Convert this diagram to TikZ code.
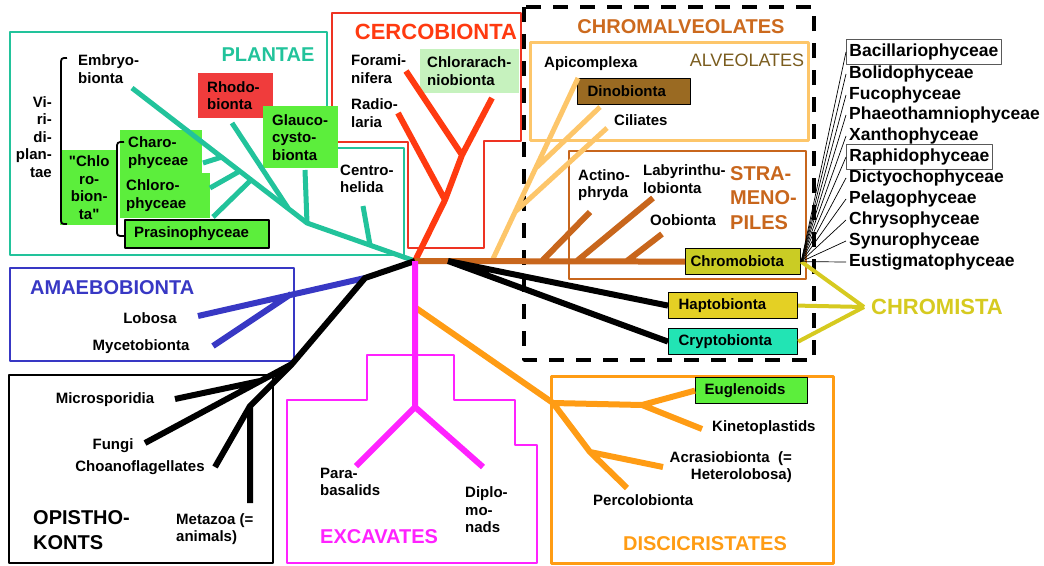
\documentclass[tikz,border=0pt]{standalone}
\usepackage{fontspec}
\setmainfont{Liberation Sans}
\newfontfamily\qfont{Liberation Sans}
\usetikzlibrary{positioning}

\definecolor{plantcol}{HTML}{22C39B}
\definecolor{cercocol}{HTML}{FF3A10}
\definecolor{cercoline}{HTML}{EE3322}
\definecolor{rhodocol}{HTML}{F03C3C}
\definecolor{leafgreen}{HTML}{5CEE3C}
\definecolor{palegreen}{HTML}{C6F2BE}
\definecolor{alveocol}{HTML}{FDC66A}
\definecolor{alveotext}{HTML}{7A5C1E}
\definecolor{dinocol}{HTML}{9A6A22}
\definecolor{stramcol}{HTML}{C8661C}
\definecolor{chromalv}{HTML}{CC6A1E}
\definecolor{chromocol}{HTML}{CACC24}
\definecolor{haptocol}{HTML}{E4D024}
\definecolor{cryptocol}{HTML}{22E4B4}
\definecolor{chromista}{HTML}{D6CA20}
\definecolor{amoebacol}{HTML}{3838C4}
\definecolor{excavcol}{HTML}{FF22FF}
\definecolor{disccol}{HTML}{FF9C14}

\newcommand{\lblfont}{\fontsize{15}{17.5}\selectfont\bfseries}
\newcommand{\listfont}{\fontsize{17.5}{21}\selectfont\bfseries}
\newcommand{\headfont}{\fontsize{20}{24.5}\selectfont\bfseries}
\newcommand{\bigheadfont}{\fontsize{22}{26}\selectfont\bfseries}
\newcommand{\sq}{{\qfont\symbol{34}}}

\begin{document}
\begin{tikzpicture}[x=1pt,y=-1pt,line join=round,
    lbl/.style={font=\lblfont,inner sep=0pt,align=left},
    listlbl/.style={font=\listfont,inner xsep=3pt,inner ysep=4pt,anchor=west},
    boxed/.style={draw=black!65,line width=0.8pt},
    unboxed/.style={},
    grphead/.style={font=\headfont,inner sep=0pt},
    tag/.style={font=\lblfont,anchor=north west,inner ysep=0pt,align=left},
    grpbox/.style={line width=2.5pt},
    twig/.style={line width=6pt},
    fan/.style={line width=0.7pt}]

\useasboundingbox (0,0) rectangle (1044,565);

% Group outlines
\draw[grpbox,plantcol] (10,32) -- (327,32) -- (327,148) -- (404,148) -- (404,255) -- (10,255) -- cycle;
\draw[line width=2pt,cercoline] (332,13) -- (521,13) -- (521,141) -- (484,141) -- (484,248)
    -- (408,248) -- (408,142) -- (332,142) -- cycle;
\draw[line width=3.5pt,dash pattern=on 15pt off 12pt] (524,7) rectangle (814,360);
\draw[line width=3pt,alveocol] (530,42) rectangle (808,140);
\draw[grpbox,stramcol] (569,151) rectangle (806,279);
\draw[grpbox,amoebacol] (10,268) rectangle (294,361);
\draw[line width=2pt] (9,375) rectangle (273,563);
\draw[grpbox,excavcol] (287,563) -- (287,400) -- (367,400) -- (367,355) -- (454,355) -- (454,400)
    -- (515,400) -- (515,445) -- (537,445) -- (537,563) -- cycle;
\draw[line width=3pt,disccol] (551,376) rectangle (833,563);

% Coloured boxes
\node[tag,fill=rhodocol,inner xsep=9pt,text width=57pt,minimum height=45pt] (rhodo) at (198,73) {Rhodo-\\bionta};
\node[tag,fill=leafgreen,inner xsep=9pt,text width=57pt,minimum height=62pt] (glauco) at (263,106) {Glauco-\\cysto-\\bionta};
\node[tag,fill=leafgreen,inner xsep=2pt,text width=54pt,align=center,minimum height=75pt] (chlorobi) at (60,150) {\sq Chlo\\ro-\\bion-\\ta\sq};
\node[tag,fill=leafgreen,inner xsep=8pt,text width=66pt,minimum height=45pt] (charo) at (120,130) {Charo-\\phyceae};
\node[tag,fill=leafgreen,inner xsep=6pt,text width=78pt,minimum height=45pt] (chloro) at (120,173) {Chloro-\\phyceae};
\node[tag,fill=leafgreen,draw=black,line width=2pt,inner xsep=9pt,text width=126pt,minimum height=28pt] (prasino) at (124,219) {Prasinophyceae};
\node[tag,fill=palegreen,inner xsep=7pt,text width=85pt,minimum height=44pt] (chlorar) at (420,49) {Chlorarach-\\niobionta};
\node[tag,fill=dinocol,draw=black,line width=1.2pt,inner xsep=10pt,text width=93pt,minimum height=26pt] (dino) at (577,78) {Dinobionta};
\node[tag,fill=chromocol,draw=black,line width=1.2pt,inner xsep=5pt,text width=105pt,minimum height=26pt] (chromo) at (685,248) {Chromobiota};
\node[tag,fill=haptocol,draw=black,line width=1.2pt,inner xsep=10pt,text width=109pt,minimum height=26pt] (hapto) at (668,292) {Haptobionta};
\node[tag,fill=cryptocol,draw=black,line width=1.2pt,inner xsep=10pt,text width=109pt,minimum height=26pt] (crypto) at (668,328) {Cryptobionta};
\node[tag,fill=leafgreen,draw=black,line width=1.2pt,inner xsep=9pt,text width=94pt,minimum height=26pt] (euglen) at (695,377) {Euglenoids};

% Brackets
\draw[line width=1.8pt] (67,58) .. controls (61,58) .. (61,65) -- (61,217) .. controls (61,224) .. (67,224);
\draw[line width=1.8pt] (124,142) .. controls (117,142) .. (117,149) -- (117,230) .. controls (117,236) .. (124,236);

% Tree points
\coordinate (root) at (415,261);
\coordinate (pEmb) at (132,88); \coordinate (pJ1) at (307,223);
\coordinate (pRhoT) at (232,123); \coordinate (pRhoJ) at (288,208);
\coordinate (pGlaT) at (305,170);
\coordinate (pCenT) at (363,206); \coordinate (pCenJ) at (370,245);
\coordinate (pChaT) at (203,163); \coordinate (pChaJ) at (222,157);
\coordinate (pChlT) at (210,188); \coordinate (pChlJ) at (240,171);
\coordinate (pPraT) at (213,217); \coordinate (pPraJ) at (251,180);
\coordinate (cJ1) at (445,200); \coordinate (cJ2) at (462,155);
\coordinate (cChlT) at (492,98); \coordinate (cForT) at (406,71); \coordinate (cRadT) at (398,113);
\coordinate (aBase) at (492,261); \coordinate (aApiT) at (578,78);
\coordinate (aDinT) at (600,107); \coordinate (aDinJ) at (537,167);
\coordinate (aCilT) at (607,128); \coordinate (aCilJ) at (515,212);
\coordinate (sActT) at (590,212); \coordinate (sActJ) at (542,261);
\coordinate (sLabT) at (653,198); \coordinate (sLabJ) at (577,261);
\coordinate (sOobT) at (662,234); \coordinate (sOobJ) at (627,261);
\coordinate (kBase) at (448,261);
\coordinate (chvert) at (864,307);
\coordinate (mJ) at (365,278); \coordinate (mLobT) at (198,316);
\coordinate (mMycT) at (213,346); \coordinate (mMycJ) at (291,294);
\coordinate (oJ1) at (292,364); \coordinate (oJ2) at (250,406);
\coordinate (oChoT) at (215,467); \coordinate (oMetT) at (250,503);
\coordinate (oFunT) at (145,443); \coordinate (oMicT) at (175,399); \coordinate (oMicJ) at (260,381);
\coordinate (eJ) at (415,407); \coordinate (eParT) at (356,466); \coordinate (eDipT) at (483,467);
\coordinate (dStart) at (416,308); \coordinate (dJ1) at (553,403); \coordinate (dJ2) at (590,452);
\coordinate (dPerT) at (627,488); \coordinate (dAcrT) at (663,467);
\coordinate (dJ3) at (642,405); \coordinate (dKinT) at (702,429);

% Plantae
\draw[twig,plantcol,line width=5pt] (root) -- (pJ1) -- (pEmb);
\draw[twig,plantcol,line width=5pt] (pRhoT) -- (pRhoJ) (pGlaT) -- (pJ1) (pCenT) -- (pCenJ)
    (pChaT) -- (pChaJ) (pChlT) -- (pChlJ) (pPraT) -- (pPraJ);

% Cercobionta
\draw[twig,cercocol] (root) -- (cJ1) -- (cJ2) -- (cChlT) (cForT) -- (cJ2) (cRadT) -- (cJ1);

% Chromalveolates
\draw[twig,alveocol,line width=5pt] (aBase) -- (aApiT) (aDinT) -- (aDinJ) (aCilT) -- (aCilJ);
\draw[twig,stramcol] (root) -- (chromo.west) (sActT) -- (sActJ) (sLabT) -- (sLabJ) (sOobT) -- (sOobJ);
\draw[twig] (kBase) -- (hapto.west) (kBase) -- (crypto.west);
\draw[line width=4pt,chromista] (chromo.east) -- (chvert) (hapto.east) -- (chvert) (crypto.east) -- (chvert);

% Amoebobionta and Opisthokonts
\draw[twig,amoebacol] (mLobT) -- (mJ) (mMycT) -- (mMycJ);
\draw[twig] (root) -- (mJ) -- (oJ1) -- (oJ2) -- (oChoT) (oJ2) -- (oMetT) (oFunT) -- (oJ1) (oMicT) -- (oMicJ);

% Discicristates and Excavates
\draw[twig,disccol] (dStart) -- (dJ1) -- (dJ2) -- (dPerT) (dJ2) -- (dAcrT) (dJ1) -- (dJ3) -- (euglen.west) (dJ3) -- (dKinT);
\draw[twig,excavcol] (root) -- (eJ) -- (eParT) (eJ) -- (eDipT);

% Classes of Chromobiota
\foreach \nm/\yy/\frm [count=\i] in {Bacillariophyceae/52/boxed, Bolidophyceae/74/unboxed,
    Fucophyceae/95/unboxed, Phaeothamniophyceae/115/unboxed, Xanthophyceae/136/unboxed,
    Raphidophyceae/157/boxed, Dictyochophyceae/178/unboxed, Pelagophyceae/199/unboxed,
    Chrysophyceae/220/unboxed, Synurophyceae/241/unboxed, Eustigmatophyceae/262/unboxed}{
  \node[listlbl,\frm] (cls\i) at (846,\yy) {\nm};
  \draw[fan] (chromo.east) -- (cls\i.west);
}

% Labels
\node[lbl,anchor=west] (embryo) at (78,69) {Embryo-\\bionta};
\node[lbl,anchor=east,align=right] (viridi) at (52,137) {Vi-\\ri-\\di-\\plan-\\tae};
\node[lbl,anchor=west] (centro) at (340,179) {Centro-\\helida};
\node[lbl,anchor=west] (forami) at (351,69) {Forami-\\nifera};
\node[lbl,anchor=west] (radio) at (351,113) {Radio-\\laria};
\node[lbl,anchor=west] (apico) at (544,64) {Apicomplexa};
\node[lbl,anchor=west] (ciliat) at (614,120) {Ciliates};
\node[lbl,anchor=west] (actino) at (578,185) {Actino-\\phryda};
\node[lbl,anchor=west] (labyr) at (643,179) {Labyrinthu-\\lobionta};
\node[lbl,anchor=west] (oobi) at (650,220) {Oobionta};
\node[lbl] (lobosa) at (150,318) {Lobosa};
\node[lbl] (myceto) at (141,347) {Mycetobionta};
\node[lbl] (microsp) at (105,400) {Microsporidia};
\node[lbl] (fungi) at (113,446) {Fungi};
\node[lbl] (choano) at (140,468) {Choanoflagellates};
\node[lbl,anchor=west] (metazoa) at (176,529) {Metazoa (=\\animals)};
\node[lbl,anchor=west] (parabas) at (320,482) {Para-\\basalids};
\node[lbl,anchor=west] (diplo) at (465,510) {Diplo-\\mo-\\nads};
\node[lbl,anchor=west] (kineto) at (712,428) {Kinetoplastids};
\node[lbl,anchor=east,align=right] (acrasio) at (792,467) {Acrasiobionta\ \ (=\\Heterolobosa)};
\node[lbl,anchor=west] (percolo) at (593,500) {Percolobionta};

% Group names
\node[grphead,text=plantcol] (plantae) at (268,55) {PLANTAE};
\node[grphead,text=cercocol,font=\bigheadfont] (cerco) at (436,32) {CERCOBIONTA};
\node[grphead,text=chromalv] (chromalvh) at (681,27) {CHROMALVEOLATES};
\node[grphead,text=alveotext,font=\fontsize{18}{22}\selectfont] (alveoh) at (747,60) {ALVEOLATES};
\node[grphead,text=stramcol,align=left,anchor=west] (strameno) at (730,198) {STRA-\\MENO-\\PILES};
\node[grphead,text=chromista,font=\bigheadfont,right=7pt of chvert] (chromistah) {CHROMISTA};
\node[grphead,text=amoebacol,anchor=west] (amoebah) at (30,288) {AMAEBOBIONTA};
\node[grphead,align=left,anchor=west] (opistho) at (33,530) {OPISTHO-\\KONTS};
\node[grphead,text=excavcol,anchor=west] (excavh) at (320,537) {EXCAVATES};
\node[grphead,text=disccol] (discich) at (705,544) {DISCICRISTATES};

\end{tikzpicture}
\end{document}
